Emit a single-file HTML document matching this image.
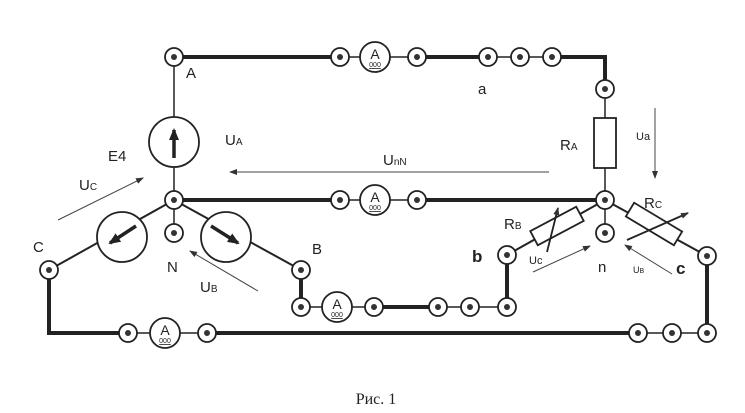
<!DOCTYPE html>
<html><head><meta charset="utf-8"><style>
html,body{margin:0;padding:0;background:#fff;}
svg{display:block;}
text{font-family:"Liberation Sans",sans-serif;fill:#222;}
</style></head><body>
<svg width="745" height="413" viewBox="0 0 745 413" xmlns="http://www.w3.org/2000/svg">
<defs>
<marker id="ar" markerWidth="8" markerHeight="6" refX="7" refY="3" orient="auto" markerUnits="userSpaceOnUse"><path d="M0,0 L8,3 L0,6 Z" fill="#333"/></marker>
<marker id="ab" markerWidth="12" markerHeight="10" refX="10" refY="5" orient="auto" markerUnits="userSpaceOnUse"><path d="M0,0 L12,5 L0,10 Z" fill="#222"/></marker>
</defs>
<g stroke="#222" fill="none">
<!-- thick wires -->
<g stroke-width="4">
<line x1="174" y1="57" x2="340" y2="57"/>
<line x1="417" y1="57" x2="488" y2="57"/>
<polyline points="552,57 605,57 605,89"/>
<line x1="174" y1="200" x2="340" y2="200"/>
<line x1="417" y1="200" x2="605" y2="200"/>
<line x1="301" y1="270" x2="301" y2="307"/>
<line x1="374" y1="307" x2="438" y2="307"/>
<line x1="507" y1="255" x2="507" y2="307"/>
<polyline points="49,270 49,333 128,333"/>
<line x1="207" y1="333" x2="638" y2="333"/>
<line x1="707" y1="256" x2="707" y2="333"/>
</g>
<!-- thin wires -->
<g stroke-width="1.5">
<line x1="340" y1="57" x2="417" y2="57"/>
<line x1="488" y1="57" x2="552" y2="57"/>
<line x1="340" y1="200" x2="417" y2="200"/>
<line x1="301" y1="307" x2="374" y2="307"/>
<line x1="438" y1="307" x2="507" y2="307"/>
<line x1="128" y1="333" x2="207" y2="333"/>
<line x1="638" y1="333" x2="707" y2="333"/>
<line x1="174" y1="57" x2="174" y2="233"/>
<line x1="605" y1="89" x2="605" y2="233"/>
<line x1="174" y1="200" x2="49" y2="270" stroke-width="2"/>
<line x1="174" y1="200" x2="301" y2="270" stroke-width="2"/>
<line x1="605" y1="200" x2="507" y2="255" stroke-width="2"/>
<line x1="605" y1="200" x2="707" y2="256" stroke-width="2"/>
</g>
</g>
<!-- sources -->
<g stroke="#222" stroke-width="1.8" fill="#fff">
<circle cx="174" cy="142" r="25"/>
<circle cx="122" cy="237" r="25"/>
<circle cx="226" cy="237" r="25"/>
</g>
<g stroke="#222" stroke-width="3.5">
<line x1="174" y1="158" x2="174" y2="130" marker-end="url(#ab)"/>
<line x1="136" y1="226" x2="110" y2="243" marker-end="url(#ab)"/>
<line x1="211" y1="226" x2="238" y2="243" marker-end="url(#ab)"/>
</g>
<!-- resistors -->
<g stroke="#222" stroke-width="1.8" fill="#fff">
<rect x="594" y="118" width="22" height="50"/>
<rect x="-26" y="-8" width="52" height="16" transform="translate(557,226) rotate(-28)"/>
<rect x="-28" y="-8" width="56" height="16" transform="translate(654,224) rotate(31)"/>
</g>
<g stroke="#222" stroke-width="1.8">
<line x1="547" y1="252" x2="558" y2="208" marker-end="url(#ar)"/>
<line x1="627" y1="240" x2="688" y2="213" marker-end="url(#ar)"/>
</g>
<!-- terminals -->
<g stroke="#222" stroke-width="1.8" fill="#fff">
<circle cx="174" cy="57" r="9"/><circle cx="340" cy="57" r="9"/><circle cx="417" cy="57" r="9"/>
<circle cx="488" cy="57" r="9"/><circle cx="520" cy="57" r="9"/><circle cx="552" cy="57" r="9"/>
<circle cx="605" cy="89" r="9"/><circle cx="605" cy="200" r="9"/><circle cx="605" cy="233" r="9"/>
<circle cx="174" cy="200" r="9"/><circle cx="174" cy="233" r="9"/>
<circle cx="340" cy="200" r="9"/><circle cx="417" cy="200" r="9"/>
<circle cx="49" cy="270" r="9"/><circle cx="301" cy="270" r="9"/>
<circle cx="301" cy="307" r="9"/><circle cx="374" cy="307" r="9"/><circle cx="438" cy="307" r="9"/>
<circle cx="470" cy="307" r="9"/><circle cx="507" cy="307" r="9"/><circle cx="507" cy="255" r="9"/>
<circle cx="128" cy="333" r="9"/><circle cx="207" cy="333" r="9"/>
<circle cx="638" cy="333" r="9"/><circle cx="672" cy="333" r="9"/><circle cx="707" cy="333" r="9"/>
<circle cx="707" cy="256" r="9"/>
<!-- ammeters -->
<circle cx="375" cy="57" r="15"/><circle cx="375" cy="200" r="15"/>
<circle cx="337" cy="307" r="15"/><circle cx="165" cy="333" r="15"/>
</g>
<g fill="#333">
<circle cx="174" cy="57" r="3"/><circle cx="340" cy="57" r="3"/><circle cx="417" cy="57" r="3"/>
<circle cx="488" cy="57" r="3"/><circle cx="520" cy="57" r="3"/><circle cx="552" cy="57" r="3"/>
<circle cx="605" cy="89" r="3"/><circle cx="605" cy="200" r="3"/><circle cx="605" cy="233" r="3"/>
<circle cx="174" cy="200" r="3"/><circle cx="174" cy="233" r="3"/>
<circle cx="340" cy="200" r="3"/><circle cx="417" cy="200" r="3"/>
<circle cx="49" cy="270" r="3"/><circle cx="301" cy="270" r="3"/>
<circle cx="301" cy="307" r="3"/><circle cx="374" cy="307" r="3"/><circle cx="438" cy="307" r="3"/>
<circle cx="470" cy="307" r="3"/><circle cx="507" cy="307" r="3"/><circle cx="507" cy="255" r="3"/>
<circle cx="128" cy="333" r="3"/><circle cx="207" cy="333" r="3"/>
<circle cx="638" cy="333" r="3"/><circle cx="672" cy="333" r="3"/><circle cx="707" cy="333" r="3"/>
<circle cx="707" cy="256" r="3"/>
</g>
<!-- ammeter labels -->
<g font-size="14" text-anchor="middle">
<text x="375" y="59">A</text><text x="375" y="202">A</text>
<text x="337" y="309">A</text><text x="165" y="335">A</text>
</g>
<g font-size="7" text-anchor="middle" text-decoration="underline">
<text x="375" y="67">000</text><text x="375" y="210">000</text>
<text x="337" y="317">000</text><text x="165" y="343">000</text>
</g>
<!-- voltage arrows -->
<g stroke="#444" stroke-width="1">
<line x1="549" y1="172" x2="230" y2="172" marker-end="url(#ar)"/>
<line x1="655" y1="108" x2="655" y2="178" marker-end="url(#ar)"/>
<line x1="58" y1="220" x2="143" y2="178" marker-end="url(#ar)"/>
<line x1="258" y1="291" x2="190" y2="251" marker-end="url(#ar)"/>
<line x1="533" y1="272" x2="590" y2="246" marker-end="url(#ar)"/>
<line x1="672" y1="274" x2="625" y2="245" marker-end="url(#ar)"/>
</g>
<!-- labels -->
<g font-size="15">
<text x="186" y="78">A</text>
<text x="478" y="94">a</text>
<text x="560" y="150">R<tspan font-size="10">A</tspan></text>
<text x="225" y="145">U<tspan font-size="10">A</tspan></text>
<text x="108" y="161">E4</text>
<text x="383" y="165">U<tspan font-size="10">nN</tspan></text>
<text x="79" y="190">U<tspan font-size="10">C</tspan></text>
<text x="200" y="292">U<tspan font-size="10">B</tspan></text>
<text x="167" y="272">N</text>
<text x="33" y="252">C</text>
<text x="312" y="254">B</text>
<text x="504" y="229">R<tspan font-size="10">B</tspan></text>
<text x="644" y="208">R<tspan font-size="10">C</tspan></text>
<text x="598" y="272">n</text>
</g>
<g font-size="11">
<text x="636" y="140">Ua</text>
<text x="529" y="264">Uc</text>
<text x="633" y="273" font-size="9">U<tspan font-size="7">B</tspan></text>
</g>
<g font-size="17" font-weight="bold">
<text x="472" y="262">b</text>
<text x="676" y="274">c</text>
</g>
<text x="376" y="404" font-size="16" text-anchor="middle" style="font-family:'Liberation Serif',serif">Рис. 1</text>
</svg>
</body></html>
